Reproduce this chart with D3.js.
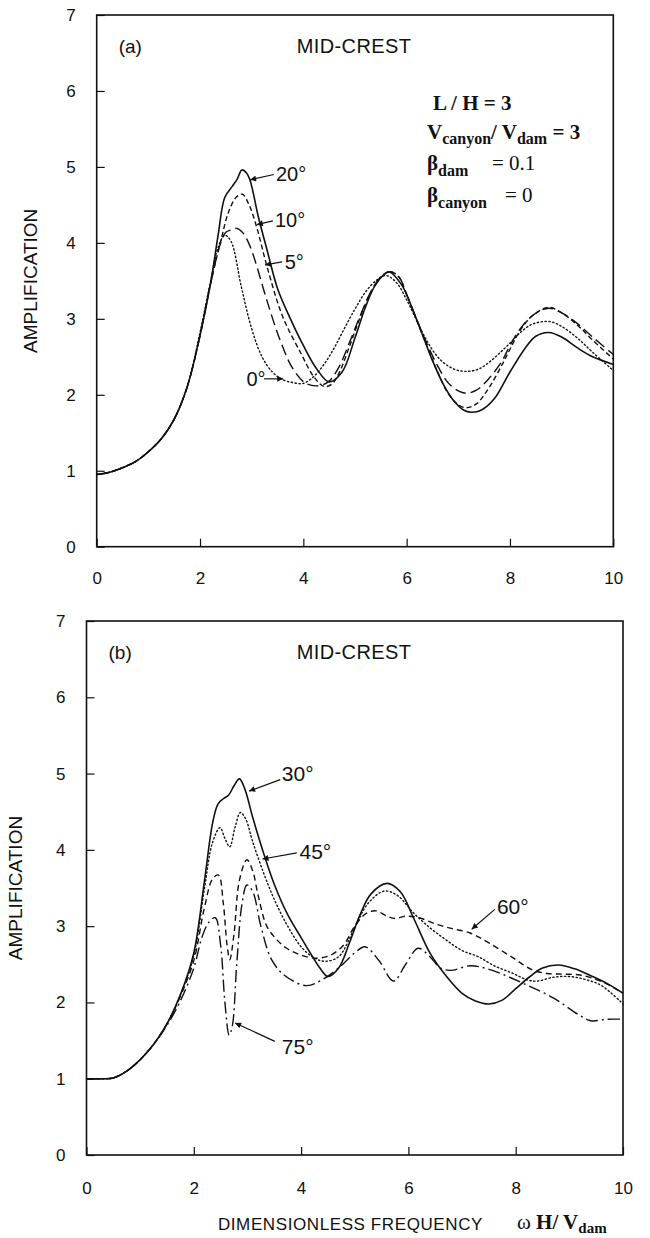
<!DOCTYPE html>
<html>
<head>
<meta charset="utf-8">
<script src="https://cdn.jsdelivr.net/npm/d3@7"></script>
<style>
  body { margin: 0; background: #fff; }
  svg { display: block; }
  .tick text { font-family: "Liberation Sans", Arial, sans-serif; font-size: 17px; fill: #111; }
  .tick line { stroke: #111; stroke-width: 1.2; }
</style>
</head>
<body>
<script>
// amplification at mid-crest, two panels (a) and (b)
var w = 650, h = 1238;

var xTicks = [0, 2, 4, 6, 8, 10];
var yTicks = [0, 1, 2, 3, 4, 5, 6, 7];

// ---- panel (a) ----
var freqA0 = [0, 0.25, 0.5, 0.75, 1.0, 1.25, 1.5, 1.75, 2.0, 2.2, 2.35, 2.48, 2.6, 2.8, 3.0, 3.2, 3.4, 3.6, 3.8, 4.0, 4.2, 4.4, 4.6, 4.8, 5.0, 5.2, 5.4, 5.6, 5.8, 6.0, 6.2, 6.4, 6.6, 6.8, 7.0, 7.2, 7.4, 7.6, 7.8, 8.0, 8.2, 8.4, 8.6, 8.8, 9.0, 9.3, 9.6, 10];
var ampA0  = [0.95, 0.98, 1.04, 1.12, 1.25, 1.42, 1.68, 2.1, 2.82, 3.48, 3.94, 4.1, 4.02, 3.42, 2.87, 2.5, 2.3, 2.2, 2.16, 2.15, 2.24, 2.4, 2.62, 2.88, 3.13, 3.35, 3.5, 3.57, 3.48, 3.25, 2.97, 2.7, 2.5, 2.38, 2.32, 2.31, 2.34, 2.43, 2.55, 2.68, 2.82, 2.92, 2.96, 2.96, 2.9, 2.75, 2.56, 2.32];

var freqA5 = [0, 0.25, 0.5, 0.75, 1.0, 1.25, 1.5, 1.75, 2.0, 2.2, 2.4, 2.5, 2.6, 2.72, 2.82, 2.92, 3.0, 3.1, 3.3, 3.55, 3.8, 4.05, 4.3, 4.5, 4.7, 4.9, 5.1, 5.3, 5.5, 5.68, 5.85, 6.0, 6.2, 6.4, 6.6, 6.8, 7.0, 7.15, 7.35, 7.6, 7.85, 8.0, 8.2, 8.45, 8.75, 9.0, 9.3, 9.6, 10];
var ampA5  = [0.95, 0.98, 1.04, 1.12, 1.25, 1.42, 1.68, 2.1, 2.78, 3.45, 4.0, 4.14, 4.17, 4.19, 4.14, 4.03, 3.9, 3.69, 3.23, 2.72, 2.34, 2.15, 2.12, 2.18, 2.38, 2.7, 3.04, 3.35, 3.55, 3.62, 3.55, 3.32, 2.98, 2.66, 2.38, 2.16, 2.05, 2.02, 2.06, 2.22, 2.45, 2.65, 2.87, 3.05, 3.14, 3.08, 2.94, 2.76, 2.53];

var freqA10 = [0, 0.25, 0.5, 0.75, 1.0, 1.25, 1.5, 1.75, 2.0, 2.2, 2.4, 2.55, 2.7, 2.82, 2.95, 3.1, 3.3, 3.6, 3.95, 4.2, 4.4, 4.55, 4.7, 4.9, 5.1, 5.3, 5.5, 5.68, 5.85, 6.0, 6.3, 6.6, 6.8, 7.0, 7.15, 7.35, 7.6, 7.85, 8.0, 8.2, 8.45, 8.75, 9.0, 9.3, 9.6, 10];
var ampA10  = [0.95, 0.98, 1.04, 1.12, 1.25, 1.42, 1.68, 2.1, 2.78, 3.45, 4.02, 4.4, 4.6, 4.64, 4.5, 4.2, 3.68, 3.03, 2.55, 2.24, 2.11, 2.14, 2.3, 2.65, 3.02, 3.34, 3.55, 3.62, 3.55, 3.32, 2.8, 2.3, 2.02, 1.87, 1.83, 1.88, 2.1, 2.4, 2.6, 2.85, 3.05, 3.15, 3.08, 2.92, 2.72, 2.47];

var freqA20 = [0, 0.25, 0.5, 0.75, 1.0, 1.25, 1.5, 1.75, 2.0, 2.2, 2.35, 2.48, 2.62, 2.72, 2.81, 2.9, 2.97, 3.13, 3.3, 3.5, 3.75, 4.0, 4.25, 4.5, 4.75, 5.0, 5.2, 5.4, 5.65, 5.9, 6.1, 6.3, 6.5, 6.7, 6.9, 7.1, 7.25, 7.45, 7.7, 8.0, 8.3, 8.5, 8.75, 9.0, 9.3, 9.6, 10];
var ampA20  = [0.95, 0.98, 1.04, 1.12, 1.25, 1.42, 1.68, 2.1, 2.78, 3.45, 4.1, 4.6, 4.74, 4.84, 4.96, 4.92, 4.82, 4.34, 3.9, 3.4, 3.0, 2.65, 2.35, 2.17, 2.3, 2.75, 3.15, 3.45, 3.62, 3.45, 3.15, 2.8, 2.45, 2.15, 1.93, 1.8, 1.77, 1.8, 1.95, 2.3, 2.62, 2.77, 2.82, 2.76, 2.62, 2.5, 2.4];

// ---- panel (b) ----
var freqB30 = [0, 0.3, 0.5, 0.75, 1.0, 1.25, 1.5, 1.75, 2.0, 2.2, 2.35, 2.45, 2.55, 2.65, 2.75, 2.85, 2.95, 3.1, 3.3, 3.5, 3.75, 4.0, 4.17, 4.35, 4.5, 4.7, 4.9, 5.1, 5.3, 5.6, 5.85, 6.1, 6.4, 6.7, 7.0, 7.25, 7.5, 7.75, 8.0, 8.25, 8.5, 8.8, 9.1, 9.4, 9.7, 10];
var ampB30  = [1.0, 1.0, 1.01, 1.1, 1.25, 1.45, 1.72, 2.1, 2.65, 3.6, 4.35, 4.6, 4.67, 4.72, 4.84, 4.93, 4.8, 4.42, 3.96, 3.55, 3.15, 2.85, 2.65, 2.45, 2.34, 2.45, 2.78, 3.15, 3.42, 3.56, 3.45, 3.1, 2.65, 2.35, 2.12, 2.02, 1.98, 2.03, 2.18, 2.33, 2.45, 2.49, 2.44, 2.35, 2.25, 2.12];

var freqB45 = [0, 0.3, 0.5, 0.75, 1.0, 1.25, 1.5, 1.75, 2.0, 2.2, 2.35, 2.49, 2.58, 2.67, 2.77, 2.87, 2.97, 3.1, 3.3, 3.5, 3.75, 4.0, 4.25, 4.45, 4.7, 5.0, 5.25, 5.55, 5.8, 6.1, 6.4, 6.7, 7.0, 7.3, 7.6, 7.95, 8.2, 8.4, 8.7, 9.0, 9.3, 9.6, 10];
var ampB45  = [1.0, 1.0, 1.01, 1.1, 1.25, 1.45, 1.72, 2.1, 2.62, 3.5, 4.1, 4.29, 4.15, 4.04, 4.3, 4.49, 4.4, 4.1, 3.7, 3.35, 3.0, 2.73, 2.58, 2.54, 2.6, 2.98, 3.3, 3.46, 3.4, 3.17, 2.98, 2.82, 2.68, 2.6, 2.48, 2.38, 2.3, 2.28, 2.33, 2.34, 2.3, 2.22, 1.98];

var freqB60 = [0, 0.3, 0.5, 0.75, 1.0, 1.25, 1.5, 1.75, 2.0, 2.2, 2.35, 2.46, 2.55, 2.62, 2.67, 2.75, 2.85, 2.99, 3.1, 3.2, 3.36, 3.55, 3.73, 4.0, 4.29, 4.55, 4.79, 5.0, 5.22, 5.4, 5.6, 5.75, 5.95, 6.2, 6.5, 6.8, 7.15, 7.5, 7.96, 8.3, 8.58, 8.9, 9.2, 9.5, 9.76, 10];
var ampB60  = [1.0, 1.0, 1.01, 1.1, 1.25, 1.45, 1.72, 2.08, 2.55, 3.25, 3.62, 3.67, 3.3, 2.75, 2.56, 2.9, 3.6, 3.87, 3.72, 3.4, 3.0, 2.82, 2.71, 2.62, 2.58, 2.62, 2.75, 3.0, 3.17, 3.2, 3.13, 3.1, 3.13, 3.11, 3.03, 2.97, 2.91, 2.78, 2.58, 2.43, 2.38, 2.37, 2.36, 2.3, 2.22, 2.12];

var freqB75 = [0, 0.3, 0.5, 0.75, 1.0, 1.25, 1.5, 1.75, 2.0, 2.15, 2.28, 2.4, 2.5, 2.58, 2.66, 2.72, 2.8, 2.9, 2.99, 3.1, 3.25, 3.45, 3.7, 4.1, 4.4, 4.73, 5.0, 5.19, 5.45, 5.72, 5.95, 6.18, 6.4, 6.6, 6.8, 7.15, 7.52, 8.14, 8.7, 9.17, 9.4, 9.7, 10];
var ampB75  = [1.0, 1.0, 1.01, 1.1, 1.25, 1.45, 1.7, 2.02, 2.45, 2.85, 3.05, 3.11, 2.75, 2.0, 1.57, 1.7, 2.5, 3.3, 3.54, 3.45, 3.0, 2.56, 2.35, 2.22, 2.3, 2.47, 2.65, 2.73, 2.55, 2.28, 2.5, 2.71, 2.6, 2.45, 2.42, 2.48, 2.43, 2.25, 2.06, 1.84, 1.76, 1.78, 1.78];

// annotation labels: text start, baseline, arrow tail and head (data units)
var labelsA = [
  { text: "20°", tx: 3.47, ty: 4.81, x1: 3.43, y1: 4.90, x2: 2.97, y2: 4.83 },
  { text: "10°", tx: 3.45, ty: 4.21, x1: 3.41, y1: 4.29, x2: 3.10, y2: 4.24 },
  { text: "5°",  tx: 3.64, ty: 3.66, x1: 3.59, y1: 3.75, x2: 3.26, y2: 3.71 },
  { text: "0°",  tx: 2.90, ty: 2.12, x1: 3.24, y1: 2.21, x2: 3.61, y2: 2.21 }
];
var labelsB = [
  { text: "30°", tx: 3.64, ty: 4.90, x1: 3.61, y1: 4.92, x2: 3.03, y2: 4.77 },
  { text: "45°", tx: 3.97, ty: 3.88, x1: 3.92, y1: 3.96, x2: 3.28, y2: 3.88 },
  { text: "60°", tx: 7.65, ty: 3.16, x1: 7.61, y1: 3.22, x2: 7.18, y2: 2.96 },
  { text: "75°", tx: 3.64, ty: 1.33, x1: 3.51, y1: 1.49, x2: 2.77, y2: 1.73 }
];

var svg = d3.select("body").append("svg")
  .attr("width", w)
  .attr("height", h);

svg.append("defs").append("marker")
  .attr("id", "head")
  .attr("viewBox", "0 0 10 10")
  .attr("refX", 10).attr("refY", 5)
  .attr("markerWidth", 9).attr("markerHeight", 6)
  .attr("markerUnits", "userSpaceOnUse")
  .attr("orient", "auto")
  .append("path")
  .attr("d", "M0,0 L10,5 L0,10 Z")
  .attr("fill", "#111");

var line = function(x, y){
  return d3.line()
    .x(function(d){ return x(d[0]); })
    .y(function(d){ return y(d[1]); })
    .curve(d3.curveCatmullRom.alpha(0.5));
};

function drawPanel(opt){
  var x = d3.scaleLinear().domain([0, 10]).range([opt.left, opt.right]);
  var y = d3.scaleLinear().domain([0, 7]).range([opt.bottom, opt.top]);
  var g = svg.append("g");

  // axes with inward ticks
  g.append("g")
    .attr("transform", "translate(0," + opt.bottom + ")")
    .call(d3.axisBottom(x).tickValues(xTicks).tickSize(-8).tickPadding(opt.xPad).tickFormat(d3.format("d")))
    .call(function(a){ a.select(".domain").remove(); });

  g.append("g")
    .attr("transform", "translate(" + opt.left + ",0)")
    .call(d3.axisLeft(y).tickValues(yTicks).tickSize(-8).tickPadding(21).tickFormat(d3.format("d")))
    .call(function(a){ a.select(".domain").remove(); });

  g.append("rect")
    .attr("x", opt.left).attr("y", opt.top)
    .attr("width", opt.right - opt.left)
    .attr("height", opt.bottom - opt.top)
    .attr("fill", "none")
    .attr("stroke", "#111")
    .attr("stroke-width", 1.6);

  var gen = line(x, y);
  opt.series.forEach(function(s){
    var pts = s.f.map(function(f, i){ return [f, s.a[i]]; });
    g.append("path")
      .attr("d", gen(pts))
      .attr("fill", "none")
      .attr("stroke", "#111")
      .attr("stroke-width", s.width)
      .attr("stroke-dasharray", s.dash)
      .attr("stroke-linecap", s.cap || "butt");
  });

  // annotations
  opt.labels.forEach(function(l){
    g.append("line")
      .attr("x1", x(l.x1)).attr("y1", y(l.y1))
      .attr("x2", x(l.x2)).attr("y2", y(l.y2))
      .attr("stroke", "#111").attr("stroke-width", 1.2)
      .attr("marker-end", "url(#head)");
    g.append("text")
      .attr("x", x(l.tx)).attr("y", y(l.ty))
      .attr("font-family", "Liberation Sans, Arial, sans-serif")
      .attr("font-size", opt.labelSize)
      .attr("fill", "#111")
      .text(l.text);
  });

  g.append("text")
    .attr("x", opt.left + 22).attr("y", opt.top + 38)
    .attr("font-family", "Liberation Sans, Arial, sans-serif")
    .attr("font-size", 19).attr("fill", "#111")
    .text(opt.tag);

  g.append("text")
    .attr("x", 354).attr("y", opt.top + 38)
    .attr("text-anchor", "middle")
    .attr("font-family", "Liberation Sans, Arial, sans-serif")
    .attr("font-size", 20).attr("letter-spacing", 0.4).attr("fill", "#111")
    .text("MID-CREST");

  g.append("text")
    .attr("transform", "translate(" + opt.yLabelX + "," + ((opt.top + opt.bottom) / 2) + ") rotate(-90)")
    .attr("text-anchor", "middle")
    .attr("font-family", "Liberation Sans, Arial, sans-serif")
    .attr("font-size", 19).attr("fill", "#111")
    .text("AMPLIFICATION");

  return g;
}

var gA = drawPanel({
  left: 96.7, right: 613.3, top: 15, bottom: 546.7, xPad: 25, yLabelX: 37,
  tag: "(a)", labels: labelsA, labelSize: 20,
  series: [
    { f: freqA0,  a: ampA0,  width: 1.4, dash: "1.3,2.6", cap: "round" },
    { f: freqA5,  a: ampA5,  width: 1.4, dash: "11,5" },
    { f: freqA10, a: ampA10, width: 1.4, dash: "5,3" },
    { f: freqA20, a: ampA20, width: 1.6, dash: null }
  ]
});

var gB = drawPanel({
  left: 86.5, right: 623, top: 621, bottom: 1155, xPad: 27, yLabelX: 22,
  tag: "(b)", labels: labelsB, labelSize: 21,
  series: [
    { f: freqB30, a: ampB30, width: 1.6, dash: null },
    { f: freqB45, a: ampB45, width: 1.4, dash: "1.3,2.6", cap: "round" },
    { f: freqB60, a: ampB60, width: 1.4, dash: "6,4" },
    { f: freqB75, a: ampB75, width: 1.4, dash: "12,4,2,4" }
  ]
});

// parameter block of panel (a)
var serif = "Liberation Serif, Times New Roman, serif";
var par = svg.append("g").attr("font-family", serif).attr("fill", "#111");

var t1 = par.append("text").attr("x", 433).attr("y", 110).attr("font-size", 21).attr("font-weight", "bold");
t1.text("L / H = 3");

var t2 = par.append("text").attr("x", 427).attr("y", 139).attr("font-size", 21).attr("font-weight", "bold");
t2.append("tspan").text("V");
t2.append("tspan").attr("font-size", 16).attr("dy", 5).text("canyon");
t2.append("tspan").attr("dy", -5).text("/ V");
t2.append("tspan").attr("font-size", 16).attr("dy", 5).text("dam");
t2.append("tspan").attr("dy", -5).text(" = 3");

var t3 = par.append("text").attr("x", 427).attr("y", 170).attr("font-size", 21);
t3.append("tspan").attr("font-weight", "bold").text("β");
t3.append("tspan").attr("font-weight", "bold").attr("font-size", 16).attr("dy", 6).text("dam");
t3.append("tspan").attr("x", 492).attr("dy", -6).text("=  0.1");

var t4 = par.append("text").attr("x", 427).attr("y", 202).attr("font-size", 21);
t4.append("tspan").attr("font-weight", "bold").text("β");
t4.append("tspan").attr("font-weight", "bold").attr("font-size", 16).attr("dy", 6).text("canyon");
t4.append("tspan").attr("x", 505).attr("dy", -6).text("=  0");

// common x-axis title
svg.append("text")
  .attr("x", 483).attr("y", 1230)
  .attr("text-anchor", "end")
  .attr("font-family", "Liberation Sans, Arial, sans-serif")
  .attr("font-size", 17).attr("letter-spacing", 0.6).attr("fill", "#111")
  .text("DIMENSIONLESS FREQUENCY");

var xl = svg.append("text")
  .attr("x", 517).attr("y", 1229)
  .attr("font-family", serif)
  .attr("font-size", 21).attr("fill", "#111");
xl.append("tspan").text("ω ");
xl.append("tspan").attr("font-weight", "bold").text("H/ V");
xl.append("tspan").attr("font-weight", "bold").attr("font-size", 15).attr("dy", 4).text("dam");
</script>
</body>
</html>
